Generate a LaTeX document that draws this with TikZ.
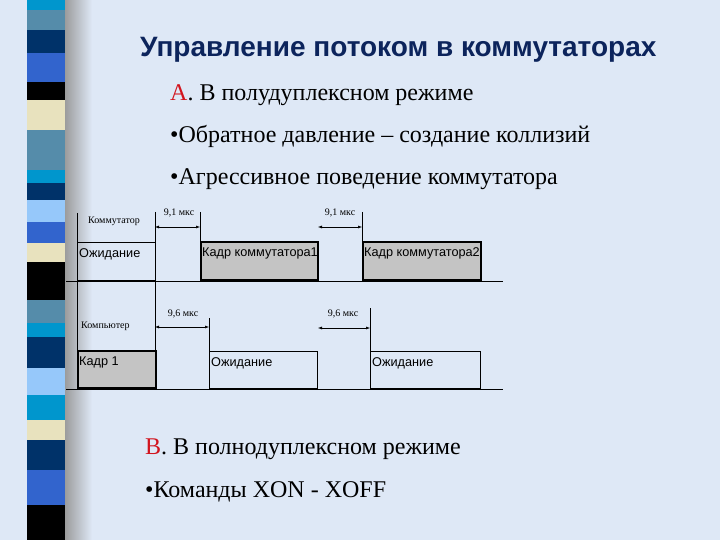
\documentclass[tikz,border=0pt]{standalone}
\usepackage{fontspec}
\setmainfont{Liberation Serif}
\newfontfamily\arialfont{Liberation Sans}
\usetikzlibrary{arrows.meta}

\tikzset{
    dimline/.style={line width=0.5pt, {Latex[length=4pt,width=3pt]}-{Latex[length=4pt,width=3pt]}},
    tickline/.style={line width=0.5pt},
    framebox/.style={draw, line width=1.6pt, fill=boxgray, anchor=south west, inner sep=0pt},
    waitbox/.style={draw, line width=0.8pt, anchor=south west, inner sep=0pt},
    boxtext/.style={font=\arialfont\fontsize{12.7}{14}\selectfont, anchor=north west, inner sep=0pt, xshift=2pt, yshift=-6pt},
    smalltext/.style={font=\fontsize{10}{12}\selectfont, anchor=base, inner sep=0pt},
    bodytext/.style={font=\fontsize{24}{28}\selectfont, anchor=base west, inner sep=0pt},
}

\begin{document}
\begin{tikzpicture}[x=1pt, y=-1pt]

        % цвета
        \definecolor{bgblue}{RGB}{222, 232, 246}
        \definecolor{boxgray}{RGB}{196, 196, 196}
        \definecolor{titleblue}{RGB}{12, 36, 92}
        \definecolor{letterred}{RGB}{210, 20, 30}
        \definecolor{stcyan}{RGB}{0, 150, 205}
        \definecolor{ststeel}{RGB}{85, 140, 170}
        \definecolor{stnavy}{RGB}{0, 50, 105}
        \definecolor{stroyal}{RGB}{50, 100, 205}
        \definecolor{stbeige}{RGB}{232, 226, 190}
        \definecolor{stlight}{RGB}{150, 200, 250}

        % фон
        \useasboundingbox (0,0) rectangle (720,540);
        \fill[bgblue] (0,0) rectangle (720,540);

        % тень и полосы слева
        \shade[left color=black!40, right color=bgblue] (64,0) rectangle (92,540);
        \foreach \ya/\yb/\c in {0/10/stcyan, 10/30/ststeel, 30/53/stnavy, 53/82/stroyal,
            82/100/black, 100/130/stbeige, 130/170/ststeel, 170/183/stcyan, 183/200/stnavy,
            200/222/stlight, 222/243/stroyal, 243/262/stbeige, 262/300/black, 300/323/ststeel,
            323/337/stcyan, 337/368/stnavy, 368/395/stlight, 395/420/stcyan, 420/440/stbeige,
            440/470/stnavy, 470/505/stroyal, 505/540/black} {
            \fill[\c] (27,\ya) rectangle (65,\yb);
        }

        % заголовок и текст
        \node[font=\arialfont\bfseries\fontsize{28}{32}\selectfont, text=titleblue, anchor=base west, inner sep=0pt]
            (title) at (140,57) {Управление потоком в коммутаторах};
        \node[bodytext] (parta) at (170,101) {\textcolor{letterred}{А}. В полудуплексном режиме};
        \node[bodytext] (itemone) at (170,143) {•Обратное давление – создание коллизий};
        \node[bodytext] (itemtwo) at (170,185) {•Агрессивное поведение коммутатора};
        \node[bodytext] (partb) at (145,454) {\textcolor{letterred}{В}. В полнодуплексном режиме};
        \node[bodytext] (itemthree) at (145,497) {•Команды XON - XOFF};

        % моменты времени
        \coordinate (t0) at (77,0);
        \coordinate (t1) at (155,0);
        \coordinate (t2) at (200,0);
        \coordinate (t3) at (209,0);
        \coordinate (t4) at (317,0);
        \coordinate (t5) at (362,0);
        \coordinate (t6) at (370,0);
        \coordinate (t7) at (480,0);

        % оси
        \draw[line width=1pt] (77,213) -- (77,389);
        \draw[line width=1pt] (66,281) -- (503,281);
        \draw[line width=1pt] (66,389) -- (503,389);

        % коммутатор
        \node[smalltext, anchor=base west] (switchlbl) at (88,223) {Коммутатор};
        \node[waitbox, minimum width=78pt, minimum height=38pt] (swwait) at (77,281) {};
        \node[boxtext] (swwaittxt) at (swwait.north west) {Ожидание};
        \node[framebox, minimum width=117pt, minimum height=38pt] (swframe1) at (200,281) {};
        \node[boxtext] (swframe1txt) at (swframe1.north west) {Кадр коммутатора1};
        \node[framebox, minimum width=118pt, minimum height=38pt] (swframe2) at (362,281) {};
        \node[boxtext] (swframe2txt) at (swframe2.north west) {Кадр коммутатора2};

        % компьютер
        \node[smalltext, anchor=base west] (hostlbl) at (81,328) {Компьютер};
        \node[framebox, minimum width=78pt, minimum height=37pt] (hostframe) at (77,389) {};
        \node[boxtext] (hostframetxt) at (hostframe.north west) {Кадр 1};
        \node[waitbox, minimum width=108pt, minimum height=37pt] (hostwait1) at (209,389) {};
        \node[boxtext] (hostwait1txt) at (hostwait1.north west) {Ожидание};
        \node[waitbox, minimum width=110pt, minimum height=37pt] (hostwait2) at (370,389) {};
        \node[boxtext] (hostwait2txt) at (hostwait2.north west) {Ожидание};

        % выносные линии
        \coordinate (a1) at (155,212);
        \coordinate (a2) at (200,212);
        \coordinate (a3) at (362,212);
        \coordinate (b1) at (209,318);
        \coordinate (b2) at (370,308);
        \draw[tickline] (a1) -- (155,389);
        \draw[tickline] (a2) -- (swframe1.north west);
        \draw[tickline] (a3) -- (swframe2.north west);
        \draw[tickline] (b1) -- (hostwait1.north west);
        \draw[tickline] (b2) -- (hostwait2.north west);

        % интервалы
        \draw[dimline] (155,227) -- (200,227);
        \node[smalltext] (gap1) at (179,215) {9,1 мкс};
        \draw[dimline] (318,227) -- (362,227);
        \node[smalltext] (gap2) at (340,215) {9,1 мкс};
        \draw[dimline] (155,327) -- (209,327);
        \node[smalltext] (gap3) at (183,316) {9,6 мкс};
        \draw[dimline] (318,328) -- (370,328);
        \node[smalltext] (gap4) at (343,316) {9,6 мкс};

    \end{tikzpicture}
\end{document}
